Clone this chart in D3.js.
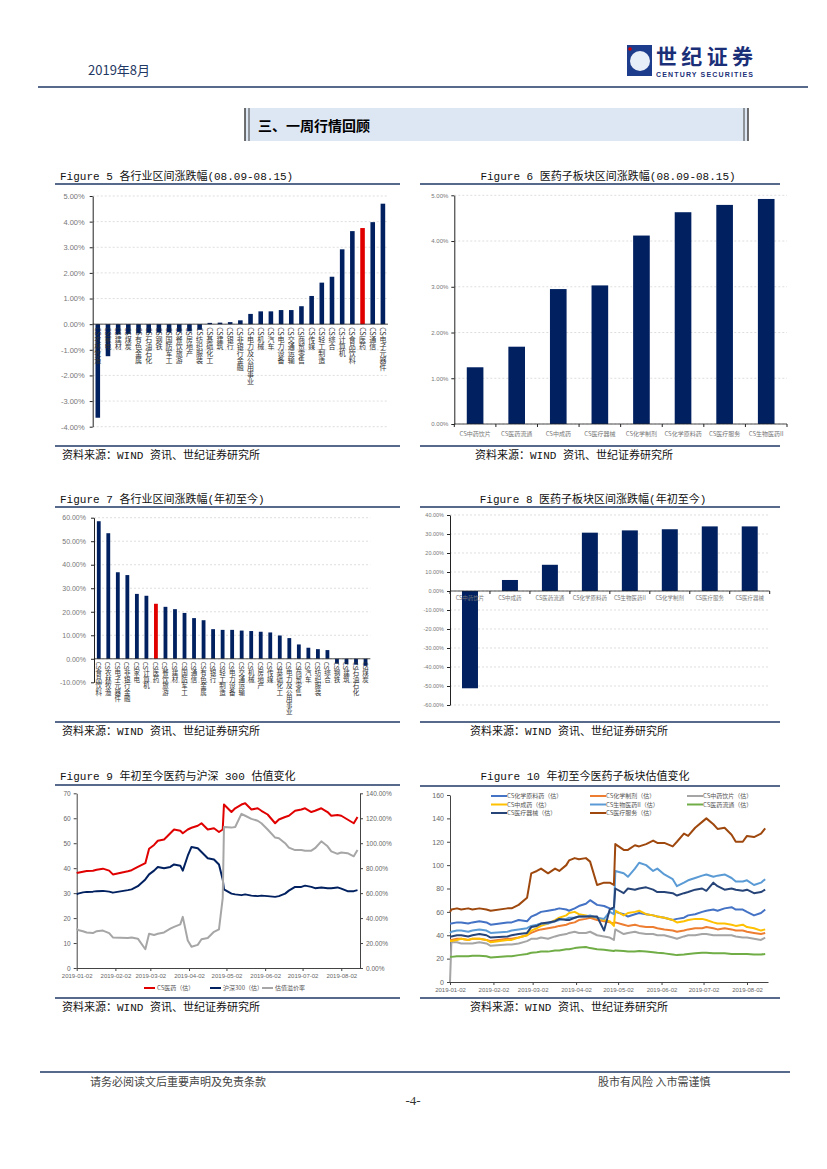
<!DOCTYPE html>
<html>
<head>
<meta charset="utf-8">
<script src="https://cdn.jsdelivr.net/npm/d3@7"></script>
<style>
  body { margin: 0; background: #fff; }
  svg { font-family: "Noto Sans CJK SC", "Noto Sans", sans-serif; }
</style>
</head>
<body>
<svg id="page" width="827" height="1169"></svg>
<script>
// ---- data ----
const fig5Cats = ["CS农林牧渔","CS家电","CS建材","CS煤炭","CS有色金属","CS石油石化","CS钢铁","CS国防军工","CS餐饮旅游","CS房地产","CS纺织服装","CS基础化工","CS建筑","CS银行","CS非银行金融","CS电力及公用事业","CS机械","CS汽车","CS电力设备","CS交通运输","CS商贸零售","CS传媒","CS轻工制造","CS综合","CS计算机","CS食品饮料","CS医药","CS通信","CS电子元器件"];
const fig5Vals = [-3.65,-1.25,-0.40,-0.38,-0.36,-0.34,-0.33,-0.32,-0.30,-0.28,-0.22,0.05,0.06,0.08,0.15,0.40,0.50,0.50,0.55,0.55,0.70,1.10,1.62,1.85,2.92,3.63,3.75,3.98,4.70];

const fig6Cats = ["CS中药饮片","CS医药流通","CS中成药","CS医疗器械","CS化学制剂","CS化学原料药","CS医疗服务","CS生物医药II"];
const fig6Vals = [1.24,1.69,2.95,3.03,4.12,4.63,4.79,4.92];

const fig7Cats = ["CS食品饮料","CS农林牧渔","CS电子元器件","CS非银行金融","CS家电","CS计算机","CS医药","CS餐饮旅游","CS建材","CS国防军工","CS通信","CS有色金属","CS银行","CS轻工制造","CS电力设备","CS交通运输","CS机械","CS房地产","CS传媒","CS基础化工","CS电力及公用事业","CS商贸零售","CS汽车","CS纺织服装","CS综合","CS钢铁","CS建筑","CS石油石化","CS煤炭"];
const fig7Vals = [58.5,53.4,36.8,35.6,27.6,26.8,23.4,22.1,21.1,19.5,17.3,16.4,12.6,12.3,12.3,12.0,11.8,11.5,11.2,9.9,8.8,6.1,4.7,4.1,3.7,-2.1,-2.3,-2.5,-3.0];

const fig8Cats = ["CS中药饮片","CS中成药","CS医药流通","CS化学原料药","CS生物医药II","CS化学制剂","CS医疗服务","CS医疗器械"];
const fig8Vals = [-51.2,5.8,13.8,30.7,31.9,32.5,34.0,34.0];

const dates = ["2019-01-02","2019-01-03","2019-01-07","2019-01-10","2019-01-15","2019-01-18","2019-01-23","2019-01-28","2019-01-31",
  "2019-02-12","2019-02-15","2019-02-20","2019-02-26",
  "2019-03-01","2019-03-05","2019-03-08","2019-03-13","2019-03-18","2019-03-21","2019-03-26","2019-03-28",
  "2019-04-01","2019-04-04","2019-04-09","2019-04-12","2019-04-17","2019-04-22","2019-04-26","2019-04-29","2019-04-30",
  "2019-05-06","2019-05-09","2019-05-14","2019-05-17","2019-05-22","2019-05-27","2019-05-30",
  "2019-06-04","2019-06-10","2019-06-13","2019-06-18","2019-06-21","2019-06-26",
  "2019-07-01","2019-07-04","2019-07-09","2019-07-12","2019-07-17","2019-07-22","2019-07-25","2019-07-30",
  "2019-08-02","2019-08-07","2019-08-12","2019-08-15"];
const dateTicks = ["2019-01-02","2019-02-02","2019-03-02","2019-04-02","2019-05-02","2019-06-02","2019-07-02","2019-08-02"];

// Figure 9
const pharmaPE = [38.0,38.2,38.6,38.9,39.0,39.4,39.8,39.0,37.5, 38.8,39.2,40.5,42.0, 47.8,49.3,51.0,51.5,54.0,55.5,55.0,54.0, 55.5,56.2,57.0,58.0,55.5,56.0,54.5,55.5,65.5, 62.5,64.0,65.5,66.0,63.5,64.0,63.0, 61.5,58.0,59.5,60.5,61.0,63.0, 63.5,64.0,62.5,63.0,64.0,62.5,61.0,61.3, 61.0,59.5,58.0,60.5];
const hs300PE = [29.5,29.8,30.3,30.5,30.6,30.8,30.9,30.6,30.2, 31.2,31.5,32.8,35.5, 37.5,39.0,40.5,40.0,40.5,41.5,41.0,39.0, 45.0,48.5,48.0,46.5,44.0,43.5,41.5,35.5,31.5, 29.8,29.5,29.2,29.5,29.0,28.8,29.0, 28.8,28.5,28.8,29.8,31.0,32.5, 32.5,33.0,32.5,32.0,32.3,32.0,32.0,32.3, 31.8,30.8,30.8,31.2];
const premium = [31.8,30.5,29.5,28.5,28.0,29.5,30.0,28.0,24.5, 24.0,24.5,23.5,15.0, 27.5,26.5,27.5,28.5,31.5,33.0,35.0,41.0, 22.0,17.0,18.5,23.0,24.0,29.0,31.0,56.0,113.0, 112.5,113.0,123.5,122.0,119.5,118.0,116.0, 111.0,104.5,104.0,100.0,96.5,94.5, 94.5,94.0,94.0,96.0,101.5,97.5,93.5,91.5, 92.5,92.0,89.5,94.5];

// Figure 10
const fig10Names = ["CS化学原料药（估）","CS化学制剂（估）","CS中药饮片（估）","CS中成药（估）","CS生物医药II（估）","CS医药流通（估）","CS医疗器械（估）","CS医疗服务（估）"];
const apiPE = [50,50,51,51,50,51,52,51,49, 51,51,53,52, 56,58,60,61,62,63,62,61, 63,65,67,70,66,65,63,62,60, 58,56,58,59,58,57,56, 55,53,54,55,57,58, 60,61,62,61,63,64,62,62, 60,57,59,62];
const prepPE = [36,36,37,37,36,37,37,36,35, 37,37,38,40, 42,44,45,46,47,48,49,50, 51,53,54,55,53,52,51,50,51, 49,48,49,48,47,47,46, 45,44,43,44,45,46, 46,47,46,45,46,45,44,44, 43,42,41,42];
const piecesPE = [0,34,34,33,33,33,34,33,31, 32,32,33,35, 37,37,38,37,39,40,41,42, 43,42,42,43,40,39,38,36,45, 41,42,43,42,41,41,40, 40,38,37,39,40,40, 41,41,40,40,40,40,39,38, 38,37,36,38];
const tcmPE = [35,35,36,37,36,37,37,36,34, 36,36,38,40, 44,46,48,50,53,55,57,59, 60,58,57,56,55,53,52,48,61, 57,59,60,61,58,57,56, 55,53,51,52,53,54, 54,53,51,50,50,49,48,49, 47,46,44,45];
const bioPE = [42,43,44,44,43,44,45,44,42, 43,44,45,46, 48,49,50,50,52,53,54,55, 55,56,56,57,55,54,60,58,95, 93,90,97,102,100,95,97, 92,88,82,85,87,89, 91,92,90,91,92,89,86,86, 87,83,85,88];
const distPE = [21.5,21.5,22,22,22,22.5,22.5,22,21, 22,22,23,24, 25,25.5,26,26,27,27,28,28, 29,29.5,30,29,28,27.5,27,26.5,27, 26.5,26,26,26.5,26,25.5,25, 24.5,23.5,23,23.5,24,24.5, 25,25,24.5,24.5,24.5,24,24,24, 24,23.5,23.5,24];
const devicePE = [39,39,40,40,39,40,41,40,38, 39,40,41,42, 47,48,50,51,52,54,53,53, 55,56,56,56,56,44,62,64,80, 76,80,79,80,81,79,77, 77,76,74,76,77,79, 80,78,85,82,79,80,79,78, 79,76,77,79];
const servicePE = [60,62,63,62,63,62,63,62,61, 63,63,66,72, 93,95,97,93,97,95,100,104, 106,105,106,103,83,85,85,83,118, 113,113,117,116,118,121,119, 119,116,120,127,125,132, 137,140,135,131,132,126,120,120, 125,124,127,131.5];

// ---- page ----
const svg = d3.select('#page');
const navy = '#002060';
const rule = '#1f3864';
const mono = '"Liberation Mono", "Noto Sans CJK SC", monospace';
const axisFont = '"Liberation Sans", "Noto Sans CJK SC", sans-serif';
const parse = d3.timeParse('%Y-%m-%d');

// header
svg.append('text').attr('x', 88).attr('y', 75).attr('font-size', 13).attr('fill', rule).text('2019年8月');
svg.append('rect').attr('x', 627).attr('y', 45).attr('width', 25).attr('height', 31).attr('fill', '#1d3c8c');
svg.append('circle').attr('cx', 640).attr('cy', 61).attr('r', 10).attr('fill', '#e8eef8');
svg.append('circle').attr('cx', 630).attr('cy', 49).attr('r', 1.8).attr('fill', '#d00000');
svg.append('text').attr('x', 656).attr('y', 64).attr('font-size', 21).attr('font-weight', 'bold')
  .attr('fill', '#1b2f78').attr('textLength', 97).text('世纪证券');
svg.append('text').attr('x', 656).attr('y', 77).attr('font-size', 7).attr('font-weight', 'bold')
  .attr('fill', '#1b2f78').attr('textLength', 97).style('font-family', axisFont).text('CENTURY SECURITIES');
svg.append('line').attr('x1', 38).attr('x2', 808).attr('y1', 87).attr('y2', 87).attr('stroke', rule).attr('stroke-width', 1.5);

// section heading
svg.append('rect').attr('x', 245).attr('y', 108).attr('width', 503).attr('height', 33).attr('fill', '#dde7f3');
[245, 249, 744, 748].forEach(x => {
  svg.append('line').attr('x1', x).attr('x2', x).attr('y1', 108).attr('y2', 141).attr('stroke', '#404040').attr('stroke-width', x === 249 || x === 744 ? 1 : 1.5);
});
svg.append('text').attr('x', 258).attr('y', 131).attr('font-size', 14).attr('font-weight', 'bold').text('三、一周行情回顾');

// figure frames: title, rules, source
function frame(title, tx, anchor, ty, l, r, topRule, botRule, sx, sy) {
  svg.append('text').attr('x', tx).attr('y', ty).attr('text-anchor', anchor)
    .attr('font-size', 11).style('font-family', mono).attr('fill', '#111').text(title);
  svg.append('line').attr('x1', l).attr('x2', r).attr('y1', topRule).attr('y2', topRule).attr('stroke', rule).attr('stroke-width', 1.5);
  svg.append('line').attr('x1', l).attr('x2', r).attr('y1', botRule).attr('y2', botRule).attr('stroke', rule).attr('stroke-width', 1.5);
  svg.append('text').attr('x', sx).attr('y', sy).attr('font-size', 11).style('font-family', mono).attr('fill', '#111')
    .text('资料来源：WIND 资讯、世纪证券研究所');
}

frame('Figure 5 各行业区间涨跌幅(08.09-08.15)', 60, 'start', 180, 55, 400, 184, 446, 62, 459);
frame('Figure 6 医药子板块区间涨跌幅(08.09-08.15)', 608, 'middle', 180, 420, 780, 184, 446, 475, 459);
frame('Figure 7 各行业区间涨跌幅(年初至今)', 60, 'start', 503, 55, 400, 507, 722, 62, 735);
frame('Figure 8 医药子板块区间涨跌幅(年初至今)', 593, 'middle', 503, 420, 780, 507, 722, 470, 735);
frame('Figure 9 年初至今医药与沪深 300 估值变化', 60, 'start', 780, 55, 400, 785, 998, 62, 1011);
frame('Figure 10 年初至今医药子板块估值变化', 585, 'middle', 780, 420, 780, 786, 998, 470, 1011);

// ---- bar charts ----
function barChart(c) {
  const g = svg.append('g');
  const x = d3.scaleBand().domain(c.cats).range([c.left, c.right]).paddingInner(c.pad).paddingOuter(c.pad / 2);
  const y = d3.scaleLinear().domain(c.domain).range([c.bottom, c.top]);
  const ticks = d3.range(c.domain[0], c.domain[1] + c.step / 2, c.step);

  g.selectAll('.grid').data(ticks).join('line')
    .attr('x1', c.left).attr('x2', c.right)
    .attr('y1', d => y(d)).attr('y2', d => y(d))
    .attr('stroke', '#d0d0d0').attr('stroke-width', 0.7).attr('stroke-dasharray', '2,2');

  g.selectAll('.bar').data(c.vals).join('rect')
    .attr('x', (d, i) => x(c.cats[i]))
    .attr('width', x.bandwidth())
    .attr('y', d => y(Math.max(0, d)))
    .attr('height', d => Math.abs(y(d) - y(0)))
    .attr('fill', (d, i) => c.cats[i] === c.highlight ? '#e00000' : navy);

  const ax = g.append('g').attr('transform', `translate(${c.left},0)`)
    .call(d3.axisLeft(y).tickValues(ticks).tickSize(3).tickSizeOuter(0).tickPadding(c.tickPad)
      .tickFormat(d => d.toFixed(2) + '%'));
  ax.select('.domain').attr('stroke', '#222');
  ax.selectAll('line').attr('stroke', '#222');
  ax.selectAll('text').attr('font-size', c.tickFont).attr('fill', '#777').style('font-family', axisFont);

  g.append('line').attr('x1', c.left).attr('x2', c.right).attr('y1', y(0)).attr('y2', y(0))
    .attr('stroke', '#222').attr('stroke-width', 0.8);

  if (c.vertical) {
    g.selectAll('.lab').data(c.cats).join('text')
      .attr('x', d => x(d) + x.bandwidth() / 2)
      .attr('y', y(0) + 3)
      .style('writing-mode', 'vertical-rl')
      .attr('font-size', c.labFont).attr('fill', '#333')
      .text(d => d);
  } else {
    const bounds = c.cats.map(d => x(d) - x.step() * c.pad / 2).concat([c.right]);
    g.selectAll('.tk').data(bounds).join('line')
      .attr('x1', d => d).attr('x2', d => d).attr('y1', y(0)).attr('y2', y(0) + 3).attr('stroke', '#222');
    g.selectAll('.lab').data(c.cats).join('text')
      .attr('x', d => x(d) + x.bandwidth() / 2)
      .attr('y', y(0) + c.labDy)
      .attr('text-anchor', 'middle')
      .attr('font-size', c.labFont).attr('fill', '#777')
      .text(d => d);
  }
}

barChart({ cats: fig5Cats, vals: fig5Vals, highlight: 'CS医药', left: 92.7, right: 388, top: 196, bottom: 426.7,
  domain: [-4, 5], step: 1, pad: 0.55, tickPad: 5, tickFont: 7.5, vertical: true, labFont: 7 });
barChart({ cats: fig6Cats, vals: fig6Vals, left: 454.3, right: 787, top: 195.3, bottom: 424,
  domain: [0, 5], step: 1, pad: 0.6, tickPad: 3, tickFont: 6, vertical: false, labFont: 6, labDy: 12 });
barChart({ cats: fig7Cats, vals: fig7Vals, highlight: 'CS医药', left: 94, right: 370.3, top: 517.7, bottom: 682.3,
  domain: [-10, 60], step: 10, pad: 0.6, tickPad: 5, tickFont: 7, vertical: true, labFont: 6.5 });
barChart({ cats: fig8Cats, vals: fig8Vals, left: 450, right: 769.7, top: 515, bottom: 705,
  domain: [-60, 40], step: 10, pad: 0.6, tickPad: 3, tickFont: 5.5, vertical: false, labFont: 5.5, labDy: 9 });

// ---- line charts ----
function styleAxis(ax, size) {
  ax.select('.domain').attr('stroke', '#444');
  ax.selectAll('line').attr('stroke', '#444');
  ax.selectAll('text').attr('font-size', size).attr('fill', '#666').style('font-family', axisFont);
}

const dateObjs = dates.map(parse);

// Figure 9
{
  const x = d3.scaleTime().domain([parse('2019-01-02'), parse('2019-08-17')]).range([76.7, 360]);
  const yL = d3.scaleLinear().domain([0, 70]).range([968, 793.3]);
  const yR = d3.scaleLinear().domain([0, 140]).range([968, 793.3]);
  const g = svg.append('g');

  styleAxis(g.append('g').attr('transform', 'translate(76.7,0)')
    .call(d3.axisLeft(yL).tickValues(d3.range(0, 71, 10)).tickSize(3).tickSizeOuter(0)), 6.5);
  styleAxis(g.append('g').attr('transform', 'translate(360,0)')
    .call(d3.axisRight(yR).tickValues(d3.range(0, 141, 20)).tickSize(3).tickSizeOuter(0)
      .tickFormat(d => d.toFixed(2) + '%')), 6.5);
  styleAxis(g.append('g').attr('transform', 'translate(0,968)')
    .call(d3.axisBottom(x).tickValues(dateTicks.map(parse)).tickSize(3).tickSizeOuter(0)
      .tickFormat(d3.timeFormat('%Y-%m-%d'))), 6);

  const series = [
    { vals: pharmaPE, y: yL, color: '#e00000', name: 'CS医药（估）', lx: 144 },
    { vals: hs300PE, y: yL, color: navy, name: '沪深300（估）', lx: 210 },
    { vals: premium, y: yR, color: '#a6a6a6', name: '估值溢价率', lx: 262 }
  ];
  series.forEach(s => {
    g.append('path').datum(s.vals)
      .attr('d', d3.line().x((d, i) => x(dateObjs[i])).y(d => s.y(d)))
      .attr('fill', 'none').attr('stroke', s.color).attr('stroke-width', 2).attr('stroke-linejoin', 'round');
    g.append('line').attr('x1', s.lx).attr('x2', s.lx + 11).attr('y1', 988).attr('y2', 988)
      .attr('stroke', s.color).attr('stroke-width', 2);
    g.append('text').attr('x', s.lx + 13).attr('y', 990).attr('font-size', 6).attr('fill', '#555').text(s.name);
  });
}

// Figure 10
{
  const x = d3.scaleTime().domain([parse('2019-01-02'), parse('2019-08-17')]).range([450, 768]);
  const y = d3.scaleLinear().domain([0, 160]).range([982, 795]);
  const g = svg.append('g');

  styleAxis(g.append('g').attr('transform', 'translate(450,0)')
    .call(d3.axisLeft(y).tickValues(d3.range(0, 161, 20)).tickSize(3).tickSizeOuter(0)), 7);
  styleAxis(g.append('g').attr('transform', 'translate(0,982)')
    .call(d3.axisBottom(x).tickValues(dateTicks.map(parse)).tickSize(3).tickSizeOuter(0)
      .tickFormat(d3.timeFormat('%Y-%m-%d'))), 6);

  const vals = [apiPE, prepPE, piecesPE, tcmPE, bioPE, distPE, devicePE, servicePE];
  const colors = ['#4472c4', '#ed7d31', '#a5a5a5', '#ffc000', '#5b9bd5', '#70ad47', '#264478', '#9e480e'];
  const colX = [491, 590, 687];
  const rowY = [796, 804.5, 813];

  vals.forEach((v, k) => {
    g.append('path').datum(v)
      .attr('d', d3.line().x((d, i) => x(dateObjs[i])).y(d => y(d)))
      .attr('fill', 'none').attr('stroke', colors[k]).attr('stroke-width', 2).attr('stroke-linejoin', 'round');
  });
  fig10Names.forEach((n, k) => {
    const lx = colX[k % 3], ly = rowY[Math.floor(k / 3)];
    g.append('line').attr('x1', lx).attr('x2', lx + 16).attr('y1', ly).attr('y2', ly)
      .attr('stroke', colors[k]).attr('stroke-width', 2);
    g.append('text').attr('x', lx + 16).attr('y', ly + 2).attr('font-size', 6).attr('fill', '#555').text(n);
  });
}

// footer
svg.append('line').attr('x1', 40).attr('x2', 790).attr('y1', 1072).attr('y2', 1072).attr('stroke', rule).attr('stroke-width', 1.5);
svg.append('text').attr('x', 90).attr('y', 1086).attr('font-size', 11).attr('fill', '#444').text('请务必阅读文后重要声明及免责条款');
svg.append('text').attr('x', 598).attr('y', 1086).attr('font-size', 11).attr('fill', '#444').text('股市有风险 入市需谨慎');
svg.append('text').attr('x', 413).attr('y', 1105).attr('text-anchor', 'middle').attr('font-size', 13)
  .style('font-family', '"Liberation Serif", serif').attr('fill', '#333').text('-4-');
</script>
</body>
</html>
